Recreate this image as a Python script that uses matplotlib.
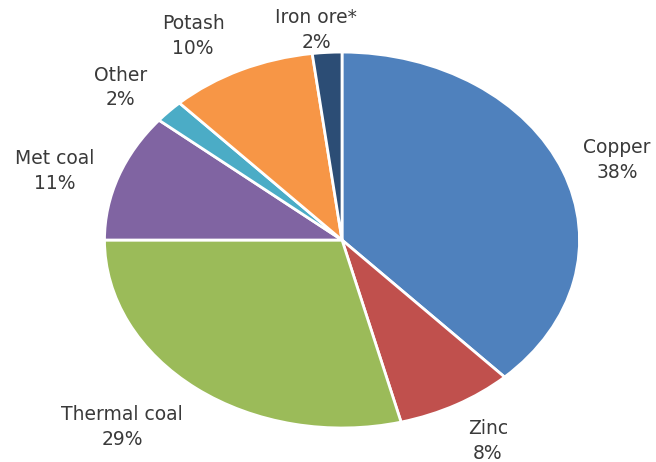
import numpy as np
import matplotlib
matplotlib.use("Agg")
import matplotlib.pyplot as plt

# data, clockwise from 12 o'clock
labels = ["Copper", "Zinc", "Thermal coal", "Met coal", "Other", "Potash", "Iron ore*"]
shares = [38, 8, 29, 11, 2, 10, 2]
colors = ["#4F81BD", "#C0504D", "#9BBB59", "#8064A2", "#4BACC6", "#F79646", "#2C4D75"]

# label distance from centre (x and y, in pie radii)
label_rx = [1.245, 1.276, 1.511, 1.284, 1.277, 1.473, 1.74]
label_ry = [1.157, 1.220, 1.259, 1.083, 1.188, 1.199, 1.119]

plt.rcParams["font.family"] = ["DejaVu Sans"]

fig = plt.figure(figsize=(6.56, 4.62), dpi=100)
ax = fig.add_axes([0, 0, 1, 1])

wedges, _ = ax.pie(shares, colors=colors, startangle=90, counterclock=False,
                   wedgeprops=dict(edgecolor="white", linewidth=2))

for w, lab, pct, rx, ry in zip(wedges, labels, shares, label_rx, label_ry):
    mid = np.deg2rad((w.theta1 + w.theta2) / 2)
    ax.text(rx * np.cos(mid), ry * np.sin(mid), f"{lab}\n{pct}%",
            ha="center", va="center", fontsize=13.5, color="#3a3a3a",
            linespacing=1.35)

# stretched pie (wider than tall), as in the source image
ax.set_aspect("auto")
ax.set_xlim(-1.44, 1.322)
ax.set_ylim(-1.181, 1.277)
ax.axis("off")

fig.savefig("out.png", dpi=100, facecolor="white")
